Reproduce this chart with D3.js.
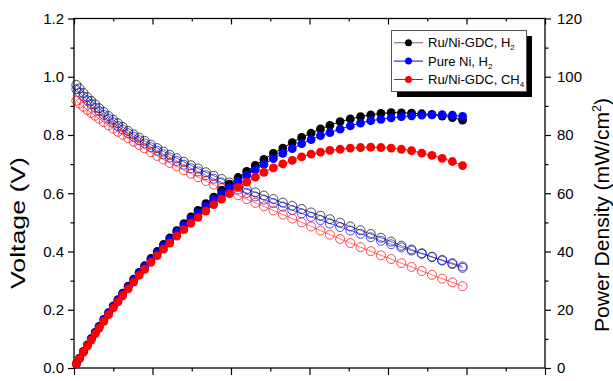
<!DOCTYPE html>
<html><head><meta charset="utf-8">
<script src="https://cdn.jsdelivr.net/npm/d3@7"></script>
<style>
body{margin:0;background:#fff}
svg{display:block}
text{font-family:"Liberation Sans",Arial,sans-serif;fill:#000}
</style>
</head><body>
<svg id="chart" width="613" height="381"></svg>
<script>
// ---------- data ----------
const currentDensity = [1.5,3.5,6,8.5,11,13.5,16,19,22,25,28,31,34.5,38,41.5,45,49,53,57,61,65.5,70,74.5,79,84,89,94,99,104.5,110,115.5,121,127,133,139,145,151,157,163,169.5,176,182.5,189,195.5,202,208.5,215,221.5,228,234.5,241,247.5];

const voltRuNiH2 = [0.972,0.960,0.944,0.930,0.917,0.905,0.892,0.879,0.865,0.852,0.840,0.828,0.814,0.802,0.791,0.780,0.767,0.755,0.743,0.732,0.720,0.708,0.696,0.685,0.672,0.660,0.649,0.637,0.626,0.614,0.603,0.592,0.580,0.568,0.557,0.546,0.534,0.523,0.511,0.499,0.486,0.473,0.460,0.447,0.434,0.420,0.407,0.394,0.382,0.369,0.357,0.344];
const voltNiH2 = [0.957,0.945,0.932,0.919,0.906,0.894,0.882,0.869,0.856,0.843,0.831,0.819,0.806,0.794,0.782,0.771,0.758,0.746,0.734,0.723,0.711,0.698,0.686,0.675,0.662,0.650,0.637,0.625,0.613,0.601,0.589,0.578,0.566,0.554,0.542,0.531,0.519,0.508,0.496,0.484,0.472,0.461,0.449,0.437,0.425,0.414,0.403,0.392,0.381,0.371,0.360,0.349];
const voltRuNiCH4 = [0.918,0.908,0.897,0.886,0.876,0.866,0.856,0.844,0.833,0.822,0.811,0.801,0.789,0.777,0.766,0.754,0.741,0.728,0.716,0.704,0.692,0.679,0.667,0.655,0.642,0.630,0.617,0.605,0.593,0.580,0.567,0.555,0.541,0.527,0.513,0.500,0.486,0.472,0.458,0.443,0.429,0.415,0.401,0.387,0.374,0.360,0.347,0.333,0.320,0.307,0.294,0.281];

const powerRuNiH2 = [1.5,3.4,5.7,7.9,10.1,12.2,14.3,16.7,19.0,21.3,23.5,25.7,28.1,30.5,32.8,35.1,37.6,40.0,42.4,44.7,47.2,49.6,51.9,54.1,56.4,58.7,61.0,63.1,65.4,67.5,69.6,71.6,73.7,75.5,77.4,79.2,80.6,82.1,83.3,84.6,85.5,86.3,86.9,87.4,87.7,87.6,87.5,87.3,87.1,86.5,86.0,85.1];
const powerNiH2 = [1.4,3.3,5.6,7.8,10.0,12.1,14.1,16.5,18.8,21.1,23.3,25.4,27.8,30.2,32.5,34.7,37.1,39.5,41.8,44.1,46.6,48.9,51.1,53.3,55.6,57.9,59.9,61.9,64.1,66.1,68.0,69.9,71.9,73.7,75.3,77.0,78.4,79.8,80.8,82.0,83.1,84.1,84.9,85.4,85.9,86.3,86.6,86.8,86.9,87.0,86.8,86.4];
const powerRuNiCH4 = [1.4,3.2,5.4,7.5,9.6,11.7,13.7,16.0,18.3,20.6,22.7,24.8,27.2,29.5,31.8,33.9,36.3,38.6,40.8,42.9,45.3,47.5,49.7,51.7,53.9,56.1,58.0,59.9,62.0,63.8,65.5,67.2,68.7,70.1,71.3,72.5,73.4,74.1,74.7,75.1,75.5,75.7,75.8,75.7,75.5,75.1,74.6,73.8,73.0,72.0,70.9,69.5];

const seriesLabels = ["Ru/Ni-GDC, H", "Pure Ni, H", "Ru/Ni-GDC, CH"];
const seriesSubscripts = ["2", "2", "4"];
const seriesColors = ["#000000", "#0000ff", "#ff0000"];

const voltageTicks = [0, 0.2, 0.4, 0.6, 0.8, 1.0, 1.2];
const voltageMinorTicks = [0.1, 0.3, 0.5, 0.7, 0.9, 1.1];
const powerTicks = [0, 20, 40, 60, 80, 100, 120];
const powerMinorTicks = [10, 30, 50, 70, 90, 110];
const currentTicks = [0, 50, 100, 150, 200, 250, 300];
const currentMinorTicks = [25, 75, 125, 175, 225, 275];

// ---------- chart ----------
const svg = d3.select("#chart");
const L = 74, R = 545, T = 18.5, B = 368;

const x = d3.scaleLinear().domain([0, 300]).range([L, R]);
const yV = d3.scaleLinear().domain([0, 1.2]).range([B, T]);
const yP = d3.scaleLinear().domain([0, 120]).range([B, T]);

function styleAxis(g) {
  g.select(".domain").remove();
  g.selectAll("line").attr("stroke", "#000").attr("stroke-width", 1.2);
  g.selectAll("text").attr("font-size", 15).attr("font-family", '"Liberation Sans",Arial,sans-serif');
}

// left
svg.append("g").attr("transform", `translate(${L},0)`)
  .call(d3.axisLeft(yV).tickValues(voltageTicks).tickSize(6).tickPadding(4).tickFormat(d3.format(".1f")))
  .call(styleAxis);
svg.append("g").attr("transform", `translate(${L},0)`)
  .call(d3.axisLeft(yV).tickValues(voltageMinorTicks).tickSize(3.5).tickFormat(""))
  .call(styleAxis);
// right
svg.append("g").attr("transform", `translate(${R},0)`)
  .call(d3.axisRight(yP).tickValues(powerTicks).tickSize(6).tickPadding(6).tickFormat(d3.format("d")))
  .call(styleAxis);
svg.append("g").attr("transform", `translate(${R},0)`)
  .call(d3.axisRight(yP).tickValues(powerMinorTicks).tickSize(3.5).tickFormat(""))
  .call(styleAxis);
// bottom
svg.append("g").attr("transform", `translate(0,${B})`)
  .call(d3.axisBottom(x).tickValues(currentTicks).tickSize(7).tickFormat(""))
  .call(styleAxis);
svg.append("g").attr("transform", `translate(0,${B})`)
  .call(d3.axisBottom(x).tickValues(currentMinorTicks).tickSize(3.5).tickFormat(""))
  .call(styleAxis);
// top (inward ticks)
svg.append("g").attr("transform", `translate(0,${T})`)
  .call(d3.axisTop(x).tickValues(currentTicks).tickSize(-6).tickFormat(""))
  .call(styleAxis);
svg.append("g").attr("transform", `translate(0,${T})`)
  .call(d3.axisTop(x).tickValues(currentMinorTicks).tickSize(-3).tickFormat(""))
  .call(styleAxis);

// frame
svg.append("rect").attr("x", L).attr("y", T).attr("width", R - L).attr("height", B - T)
  .attr("fill", "none").attr("stroke", "#000").attr("stroke-width", 1.3);

// axis titles
svg.append("text").attr("transform", "translate(18,223) rotate(-90)")
  .attr("text-anchor", "middle").attr("dy", "0.35em").attr("font-size", 20)
  .attr("textLength", 132).attr("lengthAdjust", "spacingAndGlyphs")
  .text("Voltage (V)");
const rt = svg.append("text").attr("transform", "translate(602,215) rotate(-90)")
  .attr("text-anchor", "middle").attr("dy", "0.35em").attr("font-size", 20)
  .attr("textLength", 234).attr("lengthAdjust", "spacingAndGlyphs");
rt.append("tspan").text("Power Density (mW/cm");
rt.append("tspan").attr("font-size", 12).attr("dy", -8).text("2");
rt.append("tspan").attr("dy", 8).text(")");

// series
const voltageSeries = [voltRuNiH2, voltNiH2, voltRuNiCH4];
const powerSeries = [powerRuNiH2, powerNiH2, powerRuNiCH4];
const idx = d3.range(currentDensity.length);

voltageSeries.forEach((vals, s) => {
  const g = svg.append("g");
  g.append("path").datum(idx)
    .attr("d", d3.line().x(i => x(currentDensity[i])).y(i => yV(vals[i])))
    .attr("fill", "none").attr("stroke", seriesColors[s]).attr("stroke-width", 0.8).attr("stroke-opacity", 0.7);
  g.selectAll("circle").data(idx).join("circle")
    .attr("cx", i => x(currentDensity[i])).attr("cy", i => yV(vals[i])).attr("r", 4.5)
    .attr("fill", "none").attr("stroke", seriesColors[s]).attr("stroke-width", 1).attr("stroke-opacity", 0.7);
});

powerSeries.forEach((vals, s) => {
  const g = svg.append("g");
  g.append("path").datum(idx)
    .attr("d", d3.line().x(i => x(currentDensity[i])).y(i => yP(vals[i])))
    .attr("fill", "none").attr("stroke", seriesColors[s]).attr("stroke-width", 1);
  g.selectAll("circle").data(idx).join("circle")
    .attr("cx", i => x(currentDensity[i])).attr("cy", i => yP(vals[i])).attr("r", 4.4)
    .attr("fill", seriesColors[s]);
});

// legend
const lg = svg.append("g");
lg.append("rect").attr("x", 397).attr("y", 36).attr("width", 135).attr("height", 61).attr("fill", "#000");
lg.append("rect").attr("x", 391.5).attr("y", 30.5).attr("width", 135).attr("height", 61)
  .attr("fill", "#fff").attr("stroke", "#555").attr("stroke-width", 1);
const baselines = [47.3, 65.6, 84];
seriesLabels.forEach((lab, s) => {
  const by = baselines[s], my = by - 4.5;
  lg.append("line").attr("x1", 394).attr("x2", 423).attr("y1", my).attr("y2", my)
    .attr("stroke", seriesColors[s]).attr("stroke-width", 1).attr("stroke-opacity", s === 0 ? 0.6 : 1);
  lg.append("circle").attr("cx", 408.5).attr("cy", my).attr("r", 3.5).attr("fill", seriesColors[s]);
  const t = lg.append("text").attr("x", 428).attr("y", by).attr("font-size", 13);
  t.append("tspan").text(lab);
  t.append("tspan").attr("font-size", 8).attr("dy", 3).text(seriesSubscripts[s]);
});
</script>
</body></html>
